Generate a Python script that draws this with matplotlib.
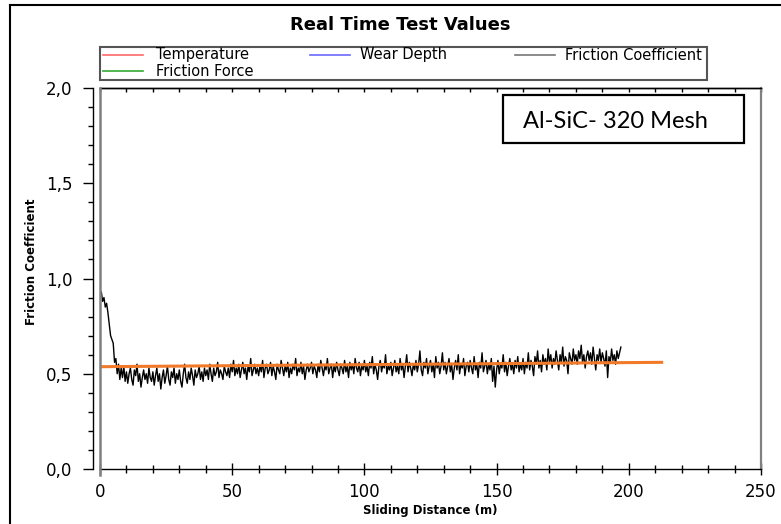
import numpy as np
import matplotlib
matplotlib.use("Agg")
import matplotlib.pyplot as plt
from matplotlib.lines import Line2D
from matplotlib.patches import Rectangle
from matplotlib.ticker import MultipleLocator, FixedLocator, FixedFormatter

# ---------------- data ----------------
title = "Real Time Test Values"
legend_labels = ["Temperature", "Wear Depth", "Friction Coefficient", "Friction Force"]
legend_colors = ["#ff6a6a", "#6a6aff", "#777777", "#33a833"]
x_label = "Sliding Distance (m)"
y_label = "Friction Coefficient"
annotation = "Al-SiC- 320 Mesh"
x_ticks = [0, 50, 100, 150, 200, 250]
y_ticks = [0.0, 0.5, 1.0, 1.5, 2.0]
y_tick_labels = ["0,0", "0,5", "1,0", "1,5", "2,0"]

sample_step = 0.5  # metres between logged samples
friction = [
    # 0 - 9.5 m
    0.91, 0.93, 0.88, 0.90, 0.85, 0.87, 0.82, 0.76, 0.70, 0.68, 0.66, 0.56, 0.58, 0.50, 0.55, 0.47, 0.53, 0.48, 0.54, 0.46,
    # 10 - 19.5
    0.51, 0.45, 0.50, 0.53, 0.47, 0.44, 0.52, 0.49, 0.55, 0.46, 0.50, 0.43, 0.48, 0.52, 0.47, 0.50, 0.45, 0.53, 0.48, 0.46,
    # 20 - 29.5
    0.51, 0.44, 0.49, 0.53, 0.46, 0.50, 0.42, 0.48, 0.52, 0.45, 0.49, 0.54, 0.47, 0.44, 0.51, 0.48, 0.53, 0.45, 0.50, 0.47,
    # 30 - 39.5
    0.52, 0.46, 0.43, 0.50, 0.55, 0.48, 0.45, 0.51, 0.47, 0.53, 0.49, 0.44, 0.52, 0.48, 0.50, 0.54, 0.47, 0.51, 0.46, 0.53,
    # 40 - 49.5
    0.49, 0.52, 0.47, 0.55, 0.50, 0.46, 0.53, 0.49, 0.51, 0.56, 0.48, 0.52, 0.50, 0.47, 0.54, 0.51, 0.49, 0.53, 0.48, 0.55,
    # 50 - 59.5
    0.51, 0.57, 0.49, 0.53, 0.50, 0.55, 0.48, 0.52, 0.56, 0.50, 0.53, 0.47, 0.54, 0.51, 0.58, 0.49, 0.52, 0.55, 0.50, 0.53,
    # 60 - 69.5
    0.49, 0.54, 0.51, 0.57, 0.48, 0.53, 0.55, 0.50, 0.52, 0.56, 0.49, 0.54, 0.51, 0.47, 0.55, 0.52, 0.50, 0.57, 0.53, 0.49,
    # 70 - 79.5
    0.54, 0.51, 0.56, 0.48, 0.53, 0.50, 0.55, 0.52, 0.58, 0.49, 0.53, 0.51, 0.56, 0.50, 0.54, 0.47, 0.52, 0.55, 0.51, 0.53,
    # 80 - 89.5
    0.56, 0.50, 0.54, 0.52, 0.48, 0.55, 0.51, 0.57, 0.53, 0.49, 0.54, 0.52, 0.58, 0.50, 0.53, 0.55, 0.48, 0.54, 0.51, 0.56,
    # 90 - 99.5
    0.52, 0.49, 0.55, 0.53, 0.50, 0.57, 0.51, 0.54, 0.48, 0.56, 0.52, 0.55, 0.50, 0.58, 0.53, 0.51, 0.56, 0.49, 0.54, 0.52,
    # 100 - 109.5
    0.57, 0.51, 0.54, 0.49, 0.56, 0.53, 0.59, 0.50, 0.55, 0.52, 0.47, 0.54, 0.57, 0.51, 0.55, 0.53, 0.60, 0.50, 0.54, 0.52,
    # 110 - 119.5
    0.56, 0.49, 0.53, 0.57, 0.51, 0.54, 0.50, 0.58, 0.52, 0.55, 0.48, 0.54, 0.60, 0.51, 0.56, 0.53, 0.49, 0.55, 0.52, 0.57,
    # 120 - 129.5
    0.51, 0.55, 0.62, 0.52, 0.49, 0.56, 0.53, 0.58, 0.50, 0.54, 0.57, 0.51, 0.55, 0.48, 0.59, 0.53, 0.56, 0.50, 0.54, 0.61,
    # 130 - 139.5
    0.52, 0.56, 0.50, 0.54, 0.58, 0.51, 0.55, 0.47, 0.53, 0.57, 0.52, 0.60, 0.50, 0.55, 0.53, 0.58, 0.49, 0.54, 0.56, 0.51,
    # 140 - 149.5
    0.57, 0.53, 0.50, 0.59, 0.52, 0.55, 0.48, 0.56, 0.53, 0.61, 0.51, 0.54, 0.57, 0.50, 0.55, 0.52, 0.58, 0.46, 0.54, 0.43,
    # 150 - 159.5
    0.52, 0.57, 0.50, 0.55, 0.53, 0.60, 0.51, 0.56, 0.49, 0.54, 0.58, 0.52, 0.55, 0.50, 0.57, 0.53, 0.59, 0.51, 0.55, 0.52,
    # 160 - 169.5
    0.58, 0.50, 0.56, 0.53, 0.61, 0.52, 0.57, 0.54, 0.49, 0.59, 0.55, 0.62, 0.53, 0.57, 0.51, 0.60, 0.55, 0.58, 0.52, 0.63,
    # 170 - 179.5
    0.56, 0.60, 0.53, 0.58, 0.55, 0.62, 0.57, 0.52, 0.60, 0.56, 0.64, 0.54, 0.59, 0.57, 0.50, 0.61, 0.58, 0.55, 0.63, 0.57,
    # 180 - 189.5
    0.60, 0.55, 0.62, 0.58, 0.65, 0.56, 0.60, 0.53, 0.59, 0.62, 0.57, 0.61, 0.55, 0.64, 0.58, 0.52, 0.60, 0.57, 0.63, 0.56,
    # 190 - 197
    0.61, 0.58, 0.54, 0.62, 0.48, 0.59, 0.56, 0.63, 0.57, 0.60, 0.55, 0.62, 0.58, 0.61, 0.64,
]
distance = np.arange(len(friction)) * sample_step

mean_line_x = [0, 213]
mean_line_y = [0.537, 0.560]

# ---------------- figure ----------------
W, H = 781, 524
fig = plt.figure(figsize=(W / 100, H / 100), dpi=100)
fig.patch.set_facecolor("white")


def fx(px):
    return px / W


def fy(py):
    return 1 - py / H


ax_l, ax_r, ax_t, ax_b = 100, 761, 88, 469
ax = fig.add_axes([fx(ax_l), fy(ax_b), (ax_r - ax_l) / W, (ax_b - ax_t) / H])

ax.plot(distance, friction, color="black", lw=1.0, zorder=3)
ax.plot(mean_line_x, mean_line_y, color="#f07a2a", lw=2.2, zorder=4, solid_capstyle="butt")

ax.set_xlim(0, 250)
ax.set_ylim(0, 2.0)

# spines
ax.spines["left"].set_position(("outward", 5))
ax.spines["left"].set_linewidth(1.0)
ax.spines["bottom"].set_linewidth(1.0)
ax.spines["top"].set_linewidth(1.0)
ax.spines["right"].set_color("#808080")
ax.spines["right"].set_linewidth(1.6)
ax.add_line(Line2D([0, 0], [-6 / 381, 1], transform=ax.transAxes, color="#808080",
                   lw=1.8, clip_on=False, zorder=5))

# ticks
ax.xaxis.set_major_locator(FixedLocator(x_ticks))
ax.xaxis.set_minor_locator(MultipleLocator(10))
ax.yaxis.set_major_locator(FixedLocator(y_ticks))
ax.yaxis.set_major_formatter(FixedFormatter(y_tick_labels))
ax.yaxis.set_minor_locator(MultipleLocator(0.1))
ax.tick_params(axis="x", which="major", direction="inout", length=8, width=1,
               labelsize=12, pad=6, top=False)
ax.tick_params(axis="x", which="minor", direction="inout", length=6, width=1, top=False)
ax.tick_params(axis="y", which="major", direction="out", length=7, width=1,
               labelsize=12, pad=8)
ax.tick_params(axis="y", which="minor", direction="out", length=3.5, width=1)

sec = ax.secondary_xaxis("top")
sec.xaxis.set_major_locator(MultipleLocator(10))
sec.tick_params(direction="in", length=3, width=1, labeltop=False)
sec.spines["top"].set_linewidth(1.0)

ax.set_xlabel(x_label, fontsize=8.5, fontweight="bold")
ax.xaxis.set_label_coords(0.5, (ax_b - 504) / 381)
ax.set_ylabel(y_label, fontsize=8.5, fontweight="bold")
ax.yaxis.set_label_coords((38 - ax_l) / 661, (ax_b - 262) / 381)

# annotation box
bx0, bx1, by0, by1 = 503, 744, 95, 143
ax.add_patch(Rectangle(((bx0 - ax_l) / 661, (ax_b - by1) / 381), (bx1 - bx0) / 661, (by1 - by0) / 381,
                       transform=ax.transAxes, facecolor="white", edgecolor="black", lw=1.6, zorder=6))
ax.text((523 - ax_l) / 661, (ax_b - 121) / 381, annotation, transform=ax.transAxes,
        ha="left", va="center", fontsize=17, family=["Lato", "DejaVu Sans"], zorder=7)

# title
fig.text(fx(400), fy(25), title, ha="center", va="center", fontsize=13, fontweight="bold")

# legend (drawn as figure artists)
fig.add_artist(Rectangle((fx(100), fy(80)), (707 - 100) / W, (80 - 47) / H, transform=fig.transFigure,
                         facecolor="white", edgecolor="#555555", lw=1.5))
leg_pos = [(103, 55), (310, 55), (515, 55), (103, 71)]
for (lx, ly), lab, col in zip(leg_pos, legend_labels, legend_colors):
    fig.add_artist(Line2D([fx(lx), fx(lx + 40)], [fy(ly), fy(ly)], transform=fig.transFigure,
                          color=col, lw=1.2))
    fig.text(fx(lx + 53 if lx == 103 else lx + 50), fy(ly), lab, ha="left", va="center", fontsize=10.5)

# outer frame lines (left and top edges of the screenshot border)
fig.add_artist(Line2D([fx(10), fx(10)], [fy(5), 0], transform=fig.transFigure, color="black", lw=1.5))
fig.add_artist(Line2D([fx(10), 1], [fy(5), fy(5)], transform=fig.transFigure, color="black", lw=1.5))

fig.savefig("out.png", dpi=100)
